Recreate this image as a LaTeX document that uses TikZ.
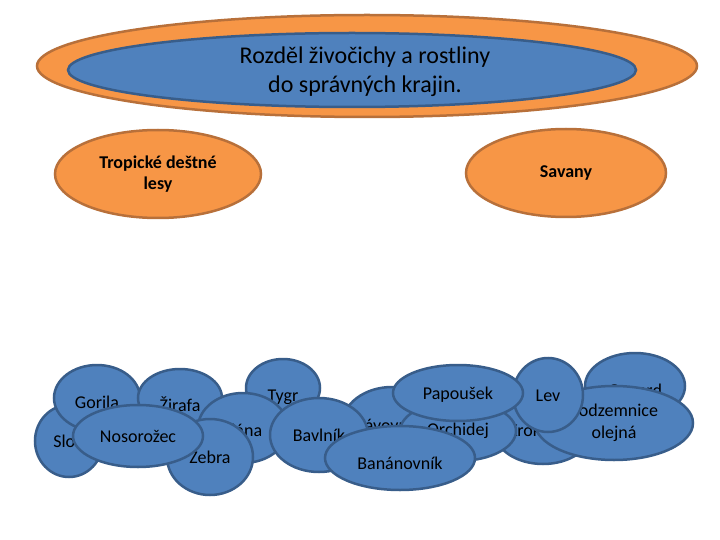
\documentclass[tikz,border=0pt]{standalone}
\usepackage{fontspec}
\setmainfont{Carlito}
\usetikzlibrary{shapes.geometric}
\definecolor{orangefill}{HTML}{F79646}
\definecolor{orangeline}{HTML}{B8703A}
\definecolor{bluefill}{HTML}{4F81BD}
\definecolor{blueline}{HTML}{385D8A}
\newcommand{\dn}[2]{\raisebox{\dimexpr-#1pt-5.5pt\relax}[0pt][0pt]{#2}}
\tikzset{
  orangeoval/.style={ellipse, draw=orangeline, fill=orangefill, line width=2.5pt, inner sep=0pt, align=center},
  blueoval/.style={ellipse, draw=blueline, fill=bluefill, line width=2.5pt, inner sep=0pt, align=center, font=\fontsize{18}{21.6}\selectfont},
  headtext/.style={font=\fontsize{18}{21}\selectfont\bfseries, align=center, inner sep=0pt},
  titletext/.style={font=\fontsize{24}{29}\selectfont, align=center, inner sep=0pt}
}
\begin{document}
\begin{tikzpicture}[x=1pt,y=-1pt]
\useasboundingbox (0,0) rectangle (720,540);
\fill[white] (0,0) rectangle (720,540);
% title
\node[orangeoval, minimum width=660pt, minimum height=102pt] (outer) at (367,66) {};
\node[blueoval, minimum width=568pt, minimum height=74pt] (inner) at (352,70) {};
\node[titletext] (title) at (365,72) {Rozděl živočichy a rostliny\\do správných krajin.};
% categories
\node[orangeoval, minimum width=206pt, minimum height=88pt, headtext] (trop) at (158,174) {Tropické deštné\\lesy};
\node[orangeoval, minimum width=200pt, minimum height=88pt, headtext] (sav) at (566,173) {Savany};
% items
\node[blueoval, minimum width=68pt, minimum height=72pt] (slon) at (69,441) {Slon};
\node[blueoval, minimum width=86pt, minimum height=66pt] (gorila) at (97,398) {\dn{5}{Gorila}};
\node[blueoval, minimum width=84pt, minimum height=58pt] (zirafa) at (180,398) {\dn{8}{Žirafa}};
\node[blueoval, minimum width=74pt, minimum height=58pt] (tygr) at (283,388) {\dn{8}{Tygr}};
\node[blueoval, minimum width=90pt, minimum height=70pt] (liana) at (243,428) {\dn{3}{Liána}};
\node[blueoval, minimum width=86pt, minimum height=76pt] (zebra) at (210,457) {Zebra};
\node[blueoval, minimum width=130pt, minimum height=62pt] (noso) at (138,436) {Nosorožec};
\node[blueoval, minimum width=100pt, minimum height=76pt] (kava) at (392,425) {\hspace*{-8pt}Kávovník};
\node[blueoval, minimum width=98pt, minimum height=74pt] (bavl) at (319,435) {Bavlník};
\node[blueoval, minimum width=96pt, minimum height=64pt] (krok) at (543,432) {\hspace*{-6pt}Krokodýl};
\node[blueoval, minimum width=100pt, minimum height=66pt] (gepard) at (635,386) {\dn{5}{Gepard}};
\node[blueoval, minimum width=158pt, minimum height=74pt] (podz) at (614,423) {Podzemnice\\olejná};
\node[blueoval, minimum width=70pt, minimum height=74pt] (lev) at (548,395) {\dn{1}{Lev}};
\node[blueoval, minimum width=116pt, minimum height=60pt] (orch) at (458,431) {Orchidej};
\node[blueoval, minimum width=130pt, minimum height=56pt] (papo) at (458,393) {\dn{1}{Papoušek}};
\node[blueoval, minimum width=150pt, minimum height=64pt] (banan) at (400,458) {\dn{6}{Banánovník}};
\end{tikzpicture}
\end{document}
